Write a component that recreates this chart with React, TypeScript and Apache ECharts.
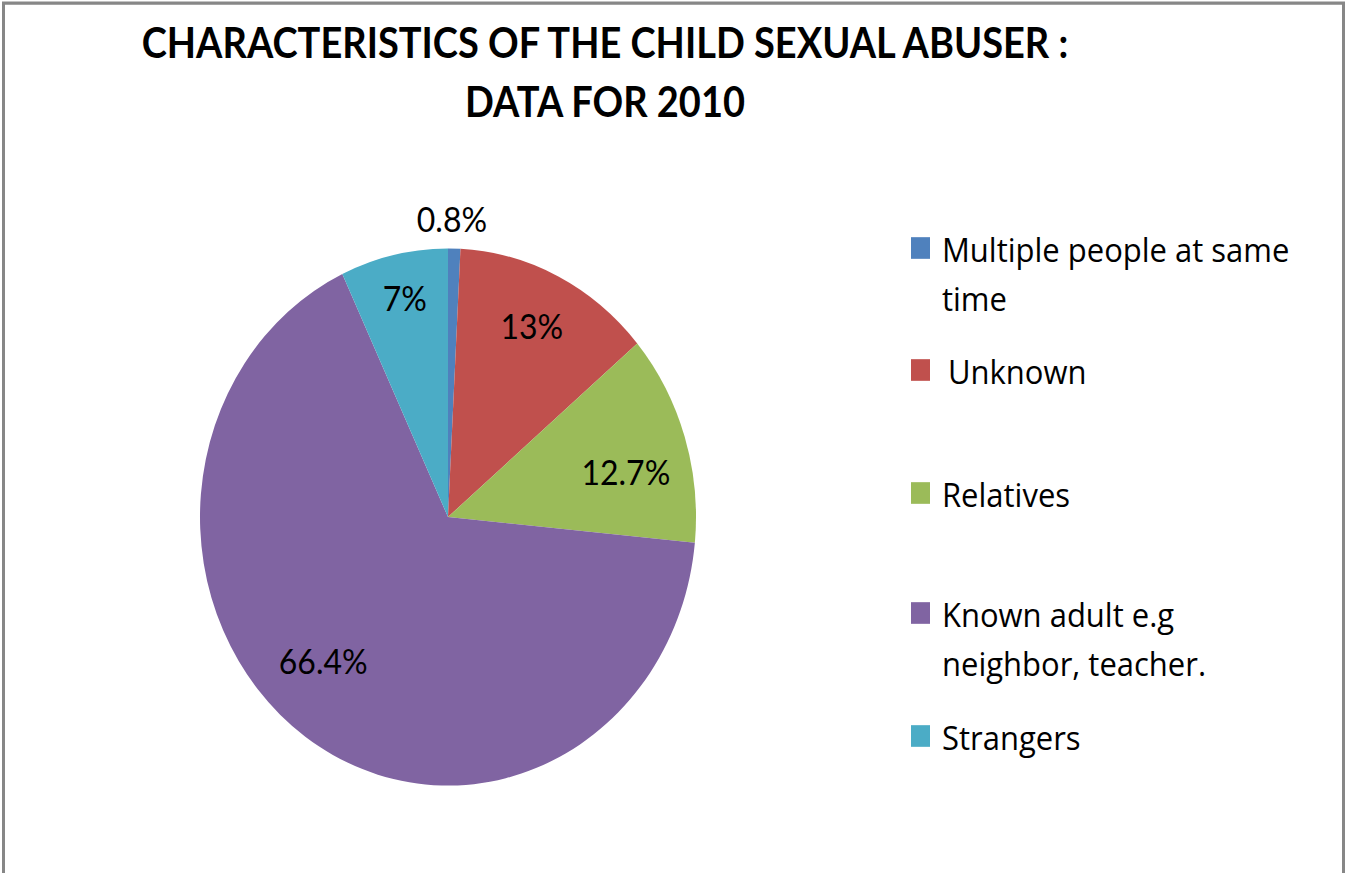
import React, { useEffect, useRef } from "react";
import * as echarts from "echarts";

// ---- data ----
const TITLE = "CHARACTERISTICS OF THE CHILD SEXUAL ABUSER :\nDATA FOR 2010";
const categories = [
  "Multiple people at same time",
  "Unknown",
  "Relatives",
  "Known adult e.g neighbor, teacher.",
  "Strangers",
];
const legendLabels = [
  "Multiple people at same\ntime",
  "Unknown",
  "Relatives",
  "Known adult e.g\nneighbor, teacher.",
  "Strangers",
];
const values = [0.8, 13, 12.7, 66.4, 7];
const colors = ["#4F81BD", "#C0504D", "#9BBB59", "#8064A2", "#4BACC6"];

// ---- layout (label nudges mimic the original's label placement) ----
const labelNudge = [
  [-3, 0],
  [0, -7.5],
  [-2.5, 14.5],
  [-16, -22.5],
  [-2, -18.5],
];
const W = 1345;
const H = 873;
const SY = 1.083; // the reference is stretched vertically
const innerH = Math.round(H / SY);

export default function App() {
  const ref = useRef<HTMLDivElement>(null);

  useEffect(() => {
    const chart = echarts.init(ref.current!, null, { renderer: "svg" });
    const font = "Lato, 'Open Sans', sans-serif";
    const legendFont = "'Open Sans', Lato, sans-serif";
    const cx = 448;
    const cy = 477.4;
    const R = 248;
    const L = 46;
    const markerCentres = [248, 370, 493, 613, 736];

    const legends = categories.map((name, i) => {
      const twoLine = legendLabels[i].indexOf("\n") >= 0;
      const centre = markerCentres[i] / SY;
      return {
        data: [name],
        orient: "vertical",
        left: 911,
        top: centre - (twoLine ? 1.5 * L : 0.5 * L),
        padding: 0,
        itemWidth: 19,
        itemHeight: 20,
        icon: "rect",
        selectedMode: false,
        formatter: (n: string) => {
          const t = legendLabels[categories.indexOf(n)];
          return t.indexOf("\n") >= 0 ? "\n" + t : t;
        },
        textStyle: {
          fontFamily: legendFont,
          fontSize: 31,
          lineHeight: L,
          color: "#000",
          padding: [0, 0, 0, i === 1 ? 13 : 7],
        },
      };
    });

    const option: any = {
      animation: false,
      backgroundColor: "#fff",
      title: {
        text: TITLE,
        left: 605,
        top: 12,
        padding: 0,
        textAlign: "center",
        textStyle: {
          fontFamily: font,
          fontWeight: "bold",
          fontSize: 38,
          lineHeight: 54,
          color: "#000",
        },
      },
      legend: legends,
      graphic: [
        {
          type: "rect",
          silent: true,
          shape: { x: 3.5, y: 3, width: 1340, height: 900 },
          style: { fill: "none", stroke: "#878787", lineWidth: 3 },
        },
      ],
      series: [
        {
          type: "pie",
          center: [cx, cy],
          radius: [0, R],
          startAngle: 90,
          clockwise: true,
          silent: true,
          avoidLabelOverlap: false,
          itemStyle: { borderWidth: 0 },
          data: categories.map((n, i) => ({
            name: n,
            value: values[i],
            itemStyle: { color: colors[i] },
            label: { show: i === 0 },
          })),
          label: {
            position: "outside",
            formatter: "{c}%",
            fontFamily: font,
            fontSize: 32,
            color: "#000",
            distanceToLabelLine: 0,
          },
          labelLine: { show: false, length: 28, length2: 0 },
          labelLayout: (p: any) => ({
            align: "center",
            dx: labelNudge[p.dataIndex][0],
            dy: labelNudge[p.dataIndex][1],
          }),
        },
        {
          type: "pie",
          center: [cx, cy],
          radius: [R / 2, R],
          startAngle: 90,
          clockwise: true,
          silent: true,
          avoidLabelOverlap: false,
          itemStyle: { color: "rgba(0,0,0,0)", borderWidth: 0 },
          data: categories.map((n, i) => ({
            name: n,
            value: values[i],
            label: { show: i !== 0 },
          })),
          label: {
            position: "inside",
            formatter: "{c}%",
            fontFamily: font,
            fontSize: 32,
            color: "#000",
          },
          labelLine: { show: false },
          labelLayout: (p: any) => ({
            dx: labelNudge[p.dataIndex][0],
            dy: labelNudge[p.dataIndex][1],
          }),
        },
      ],
    };

    chart.setOption(option);
    return () => chart.dispose();
  }, []);

  return (
    <div
      style={{
        position: "absolute",
        left: 0,
        top: 0,
        width: W,
        height: H,
        overflow: "hidden",
        background: "#fff",
      }}
    >
      <div
        ref={ref}
        style={{
          width: W,
          height: innerH,
          transform: `scaleY(${SY})`,
          transformOrigin: "0 0",
        }}
      />
    </div>
  );
}
